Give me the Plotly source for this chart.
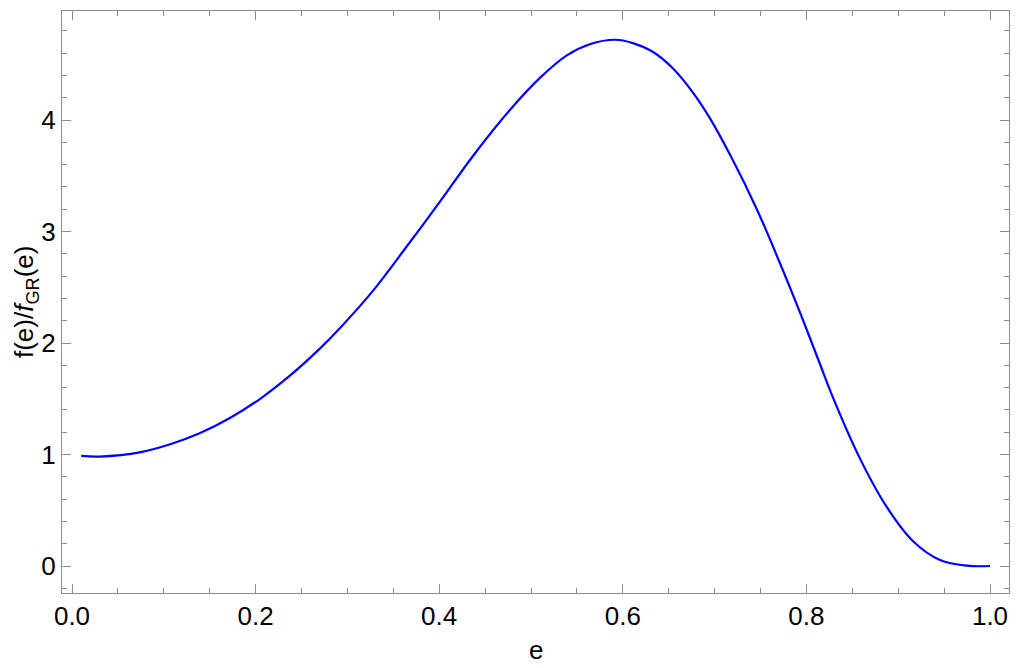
import plotly.graph_objects as go

# Data
e_vals = [0.01, 0.03, 0.075, 0.107, 0.139, 0.172, 0.205, 0.237, 0.270, 0.292,
          0.328, 0.365, 0.401, 0.437, 0.477, 0.510, 0.539, 0.564, 0.5915, 0.611,
          0.633, 0.655, 0.677, 0.695, 0.718, 0.746, 0.771, 0.793, 0.813, 0.829,
          0.858, 0.8875, 0.9165, 0.9455, 0.975, 1.0]
ratio_vals = [0.987, 0.982, 1.022, 1.092, 1.19, 1.327, 1.50, 1.705, 1.95, 2.135,
              2.47, 2.87, 3.27, 3.68, 4.09, 4.38, 4.58, 4.68, 4.72, 4.69,
              4.61, 4.46, 4.24, 4.015, 3.67, 3.20, 2.72, 2.275, 1.85, 1.51,
              0.97, 0.53, 0.22, 0.054, 0.003, 0.0]
x_ticks = [0.0, 0.2, 0.4, 0.6, 0.8, 1.0]
y_ticks = [0, 1, 2, 3, 4]

FRAME = "#8c8c8c"
FONT = "Liberation Sans, Arial, sans-serif"
FS = 26

fig = go.Figure()
fig.add_trace(go.Scatter(
    x=e_vals, y=ratio_vals, mode="lines",
    line=dict(color="#0000ff", width=2.2, shape="spline", smoothing=1.0),
    showlegend=False, hoverinfo="skip"))

axis_common = dict(
    showgrid=False, zeroline=False, showline=True, linecolor=FRAME, linewidth=1.3,
    mirror="ticks", ticks="inside", ticklen=9, tickwidth=1.2, tickcolor=FRAME,
    tickfont=dict(family=FONT, size=FS, color="#000000"), automargin=False,
)

# page body has an 8px default margin, so margins are offset to place the frame
fig.update_layout(
    width=1020, height=668,
    margin=dict(l=54, r=19, t=3, b=83),
    paper_bgcolor="white", plot_bgcolor="white",
    font=dict(family=FONT, color="#000000"),
    xaxis=dict(
        range=[-0.0109, 1.0207], tickvals=x_ticks, tickformat=".1f",
        minor=dict(dtick=0.05, tick0=0, ticks="inside", ticklen=5, tickwidth=1, tickcolor=FRAME),
        **axis_common),
    yaxis=dict(
        range=[-0.242, 4.978], tickvals=y_ticks,
        minor=dict(dtick=0.2, tick0=0, ticks="inside", ticklen=5, tickwidth=1, tickcolor=FRAME),
        **axis_common),
    annotations=[
        dict(text="e", xref="paper", yref="paper", x=0.5, y=-0.098,
             xanchor="center", yanchor="middle", showarrow=False,
             font=dict(family=FONT, size=FS, color="#000000")),
        dict(text="f(e)/<i>f</i><sub>GR</sub>(e)", xref="paper", yref="paper",
             x=-0.039, y=0.5, xanchor="center", yanchor="middle", textangle=-90,
             showarrow=False, borderpad=0,
             font=dict(family=FONT, size=FS, color="#000000")),
    ],
)

fig.write_html("out.html")
